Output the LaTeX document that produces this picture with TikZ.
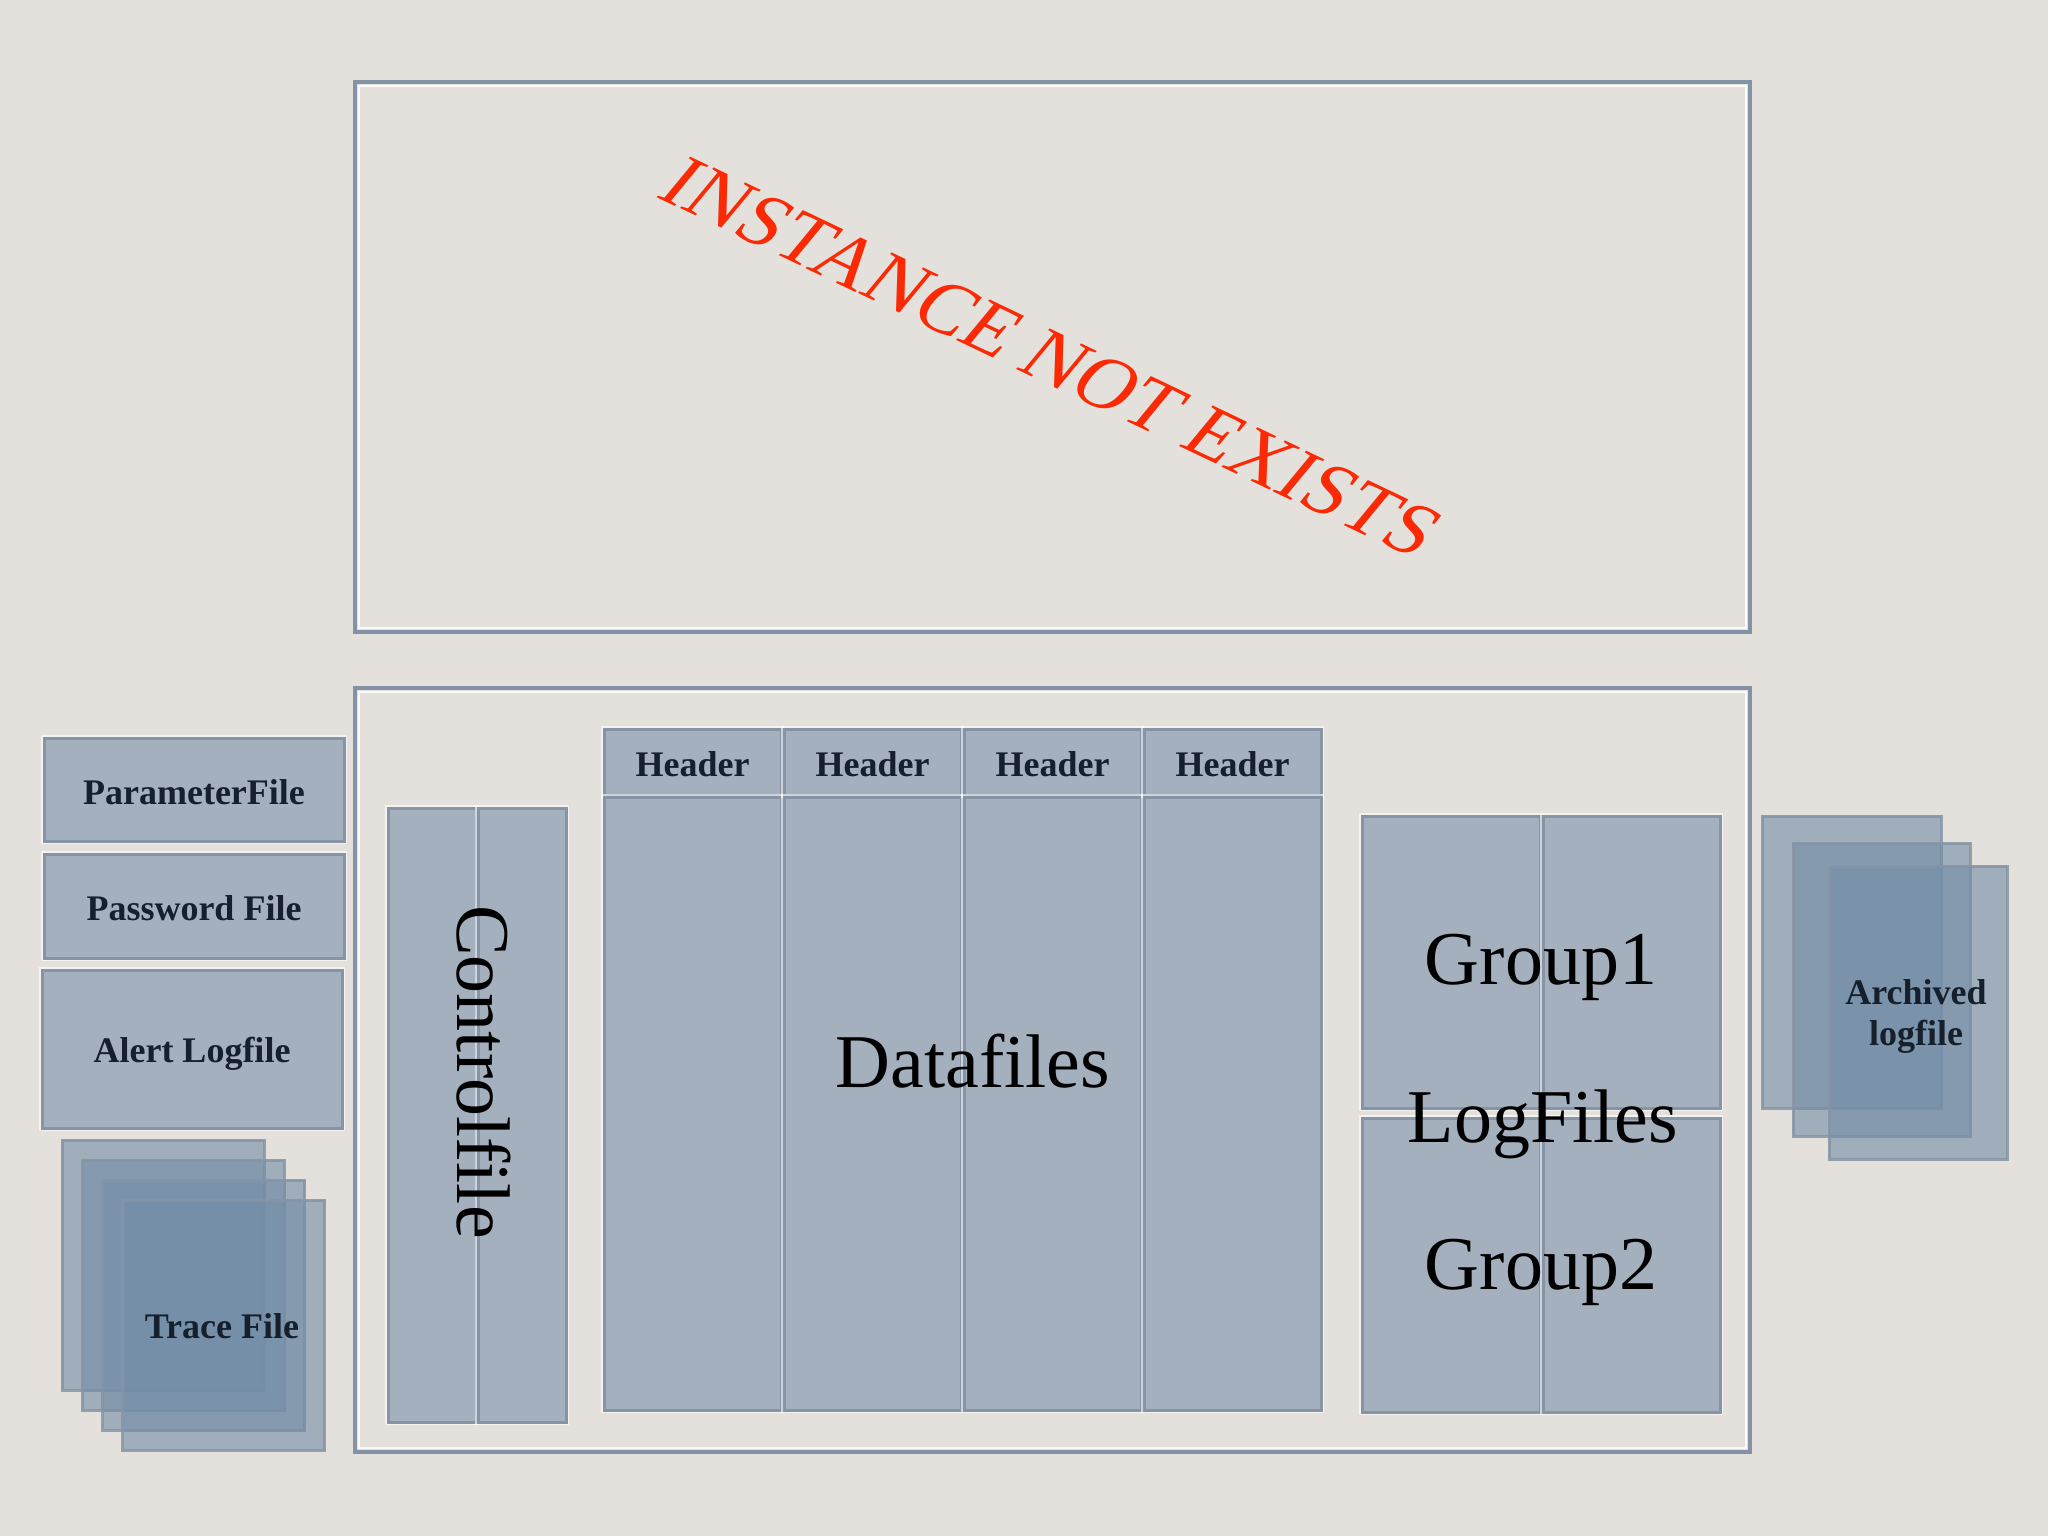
\documentclass[tikz,border=0pt]{standalone}
\usepackage{fontspec}
\setmainfont{Liberation Serif}
\definecolor{bgcol}{RGB}{228,225,220}
\definecolor{framecol}{RGB}{132,146,165}
\definecolor{boxfill}{RGB}{164,176,189}
\definecolor{boxborder}{RGB}{134,148,166}
\definecolor{stackfill}{RGB}{115,141,167}
\definecolor{textdark}{RGB}{22,32,44}
\definecolor{warnred}{RGB}{252,42,4}
\tikzset{
  bigframe/.style={draw=framecol, line width=3.5pt},
  innerline/.style={draw=white, line width=1.6pt, draw opacity=0.85},
  filebox/.style={rectangle, inner sep=0pt, fill=boxfill, draw=boxborder, line width=3pt,
     preaction={draw=white, line width=6pt, draw opacity=0.6}},
  stackbox/.style={rectangle, inner sep=0pt, fill=stackfill, fill opacity=0.6, draw=boxborder,
     draw opacity=0.85, line width=3pt},
  lbl/.style={inner sep=0pt, text=textdark, font=\fontsize{36}{41}\selectfont\bfseries},
  biglbl/.style={inner sep=0pt, text=black, font=\fontsize{76}{80}\selectfont},
  warn/.style={inner sep=0pt, text=warnred, font=\fontsize{78}{84}\selectfont}
}
\begin{document}
\begin{tikzpicture}[x=1pt,y=-1pt]
\useasboundingbox (0,0) rectangle (2048,1536);
\fill[bgcol] (0,0) rectangle (2048,1536);

% big frames
\node[bigframe, rectangle, minimum width=1395pt, minimum height=550pt, inner sep=0pt] (inst) at (1052.5,357) {};
\draw[innerline] (359,86) rectangle (1746,628);
\node[bigframe, rectangle, minimum width=1395pt, minimum height=764pt, inner sep=0pt] (db) at (1052.5,1070) {};
\draw[innerline] (359,692) rectangle (1746,1448);

% instance not exists
\node[warn, rotate=-25.5, xslant=0.25] (warnlbl) at (1052,358) {INSTANCE NOT EXISTS};

% left side files
\node[filebox, minimum width=300pt, minimum height=103pt] (pf) at (194,789.5) {};
\node[lbl, anchor=base] (pft) at (194,804) {ParameterFile};
\node[filebox, minimum width=300pt, minimum height=104pt] (pw) at (194,906) {};
\node[lbl, anchor=base] (pwt) at (194,920) {Password File};
\node[filebox, minimum width=300pt, minimum height=158pt] (al) at (192,1049) {};
\node[lbl, anchor=base] (alt) at (192,1062) {Alert Logfile};

% trace file stack
\node[stackbox, minimum width=202pt, minimum height=250pt] (tr1) at (163,1265) {};
\node[stackbox, minimum width=202pt, minimum height=250pt] (tr2) at (183,1285) {};
\node[stackbox, minimum width=202pt, minimum height=250pt] (tr3) at (203.5,1305) {};
\node[stackbox, minimum width=202pt, minimum height=250pt] (tr4) at (223.5,1325) {};
\node[lbl, anchor=base] (trt) at (222,1338) {Trace File};

% controlfile
\node[filebox, minimum width=88pt, minimum height=614pt] (cf1) at (432,1115) {};
\node[filebox, minimum width=88pt, minimum height=614pt] (cf2) at (522,1115) {};
\node[biglbl, rotate=-90, anchor=base] (cft) at (457,1072) {Controlfile};

% datafiles
\foreach \i/\cx in {1/692.5, 2/872.5, 3/1052.5, 4/1232.5}{
  \node[filebox, minimum width=177pt, minimum height=66pt] (h\i) at (\cx,762) {};
  \node[lbl, anchor=base] (ht\i) at (\cx,776) {Header};
  \node[filebox, minimum width=177pt, minimum height=613pt] (d\i) at (\cx,1103.5) {};
}
\node[biglbl, anchor=base] (dft) at (973,1087) {Datafiles};

% log files
\node[filebox, minimum width=178pt, minimum height=292pt] (lg1) at (1451,962) {};
\node[filebox, minimum width=177pt, minimum height=292pt] (lg2) at (1631.5,962) {};
\node[filebox, minimum width=178pt, minimum height=294pt] (lg3) at (1451,1265) {};
\node[filebox, minimum width=177pt, minimum height=294pt] (lg4) at (1631.5,1265) {};
\node[biglbl, anchor=base] (g1t) at (1541,984) {Group1};
\node[biglbl, anchor=base] (lft) at (1543,1142) {LogFiles};
\node[biglbl, anchor=base] (g2t) at (1541,1289) {Group2};

% archived log files
\node[stackbox, minimum width=179pt, minimum height=292pt] (ar1) at (1851.5,962) {};
\node[stackbox, minimum width=177pt, minimum height=293pt] (ar2) at (1881.5,989.5) {};
\node[stackbox, minimum width=178pt, minimum height=293pt] (ar3) at (1918,1012.5) {};
\node[lbl, align=center] (art) at (1916,1016) {Archived\\logfile};
\end{tikzpicture}
\end{document}
